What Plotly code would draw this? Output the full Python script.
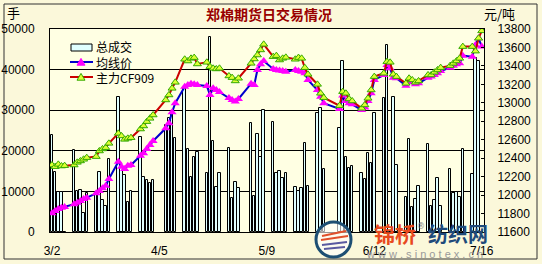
import plotly.graph_objects as go

# ---------------- data ----------------
march_days = [2, 3, 4, 5, 6, 9, 10, 11, 12, 13, 16, 17, 18, 19, 20, 23, 24, 25, 26, 27, 30, 31]
april_days = [1, 2, 3, 7, 8, 9, 10, 13, 14, 15, 16, 17, 20, 21, 22, 23, 24, 27, 28, 29, 30]
may_days = [4, 5, 6, 7, 8, 11, 12, 13, 14, 15, 18, 19, 20, 21, 22, 25, 26, 27]
june_days = [1, 2, 3, 4, 5, 8, 9, 10, 11, 12, 15, 16, 17, 18, 19, 22, 23, 24, 25, 26, 29, 30]
july_days = [1, 2, 3, 6, 7, 8, 9, 10, 13, 14, 15, 16]

dates = ([f"2009-03-{d:02d}" for d in march_days] + [f"2009-04-{d:02d}" for d in april_days] +
         [f"2009-05-{d:02d}" for d in may_days] + [f"2009-06-{d:02d}" for d in june_days] +
         [f"2009-07-{d:02d}" for d in july_days])

volume = [
    # March
    23900, 14800, 9900, 9900, 0, 20100, 10000, 10300, 4700, 9600, 9500, 14900, 8000, 6500, 17900,
    33300, 16000, 14000, 7500, 10000, 23500, 13600,
    # April
    12800, 12000, 12800, 26300, 28000, 29500, 23100, 35400, 20400, 13500, 18500, 19800, 14500,
    48000, 22400, 11200, 14600, 20800, 8400, 12400, 10800,
    # May
    26800, 8900, 24100, 18500, 30000, 27000, 14500, 15000, 13300, 14500, 11200, 10100, 10750,
    21800, 11400, 29200, 30600, 15500,
    # June
    25500, 42100, 18400, 15800, 16300, 14450, 13000, 19400, 16900, 29200, 32900, 46000, 0,
    33300, 16500, 8700, 22800, 6200, 8100, 11400, 21600, 6400,
    # July
    8000, 13300, 6400, 15400, 9500, 9850, 8600, 20400, 14200, 42800, 42000, 0,
]

avg_price = [
    11802, 11828, 11849, 11864, 11871, 11900, 11918, 11936, 11958, 11972, 12019, 12044, 12073,
    12102, 12174, 12362, 12308, 12283, 12319, 12326, 12427, 12453,
    12500, 12543, 12586, 12724, 12778, 12897, 12995, 13175, 13193, 13208, 13201, 13193, 13183,
    13085, 13157, 13139, 13117, 13052, 13031, 13013, 13042,
    13208, 13193, 13356, 13417, 13453, 13367, 13356, 13349, 13345, 13338, 13356, 13345, 13338,
    13320, 13248, 13139, 13067, 12995,
    12933, 13078, 13020, 12995, 12984, 12922, 12948, 13020, 13103, 13248, 13302, 13410, 13374,
    13273, 13266, 13186, 13230, 13222, 13201, 13211, 13273, 13284,
    13302, 13320, 13345, 13381, 13403, 13417, 13428, 13511, 13500, 13627, 13699, 13609,
]

main_price = [
    12326, 12308, 12333, 12315, 12319, 12326, 12355, 12370, 12388, 12406, 12417, 12478, 12500,
    12514, 12561, 12669, 12641, 12604, 12615, 12622, 12716, 12749,
    12796, 12832, 12868, 13031, 13085, 13157, 13222, 13472, 13453, 13482, 13490, 13421, 13439,
    13392, 13374, 13367, 13374, 13291, 13273, 13237, 13266,
    13428, 13475, 13518, 13573, 13634, 13500, 13511, 13464, 13482, 13493, 13472, 13490, 13482,
    13381, 13309, 13200, 13103, 13056,
    12969, 13121, 13103, 13042, 13020, 12940, 12977, 13049, 13139, 13284, 13320, 13446, 13439,
    13309, 13284, 13211, 13266, 13248, 13222, 13237, 13302, 13302,
    13331, 13356, 13381, 13403, 13428, 13453, 13482, 13609, 13609, 13560, 13700, 13780,
]

series_names = ["总成交", "均线价", "主力CF909"]
tick_dates = ["2009-03-02", "2009-04-05", "2009-05-09", "2009-06-12", "2009-07-16"]
tick_labels = ["3/2", "4/5", "5/9", "6/12", "7/16"]
left_ticks = [0, 10000, 20000, 30000, 40000, 50000]
right_ticks = list(range(11600, 13801, 200))

# ---------------- styles ----------------
PLOT_BG = "#FFFFE3"
PAPER_BG = "#FBF8DA"
TICK_FONT = dict(family="Liberation Sans, Arial, sans-serif", size=12, color="#000000")
CJK = "Noto Sans CJK SC"
BAR_FILL = "#E0FFFF"
BLUE, MAGENTA = "#0000CC", "#FF00FF"
RED, YG, GREEN = "#CC0000", "#DDFF33", "#33AA00"

fig = go.Figure()
fig.add_trace(go.Bar(
    x=dates, y=volume, name=series_names[0],
    width=0.78 * 86400000,
    marker=dict(color=BAR_FILL, line=dict(color="#000000", width=1)),
))
fig.add_trace(go.Scatter(
    x=dates, y=avg_price, name=series_names[1], yaxis="y2", mode="lines+markers",
    line=dict(color=BLUE, width=2),
    marker=dict(symbol="triangle-up", size=8, color=MAGENTA, line=dict(width=0)),
))
fig.add_trace(go.Scatter(
    x=dates, y=main_price, name=series_names[2], yaxis="y2", mode="lines+markers",
    line=dict(color=RED, width=2),
    marker=dict(symbol="triangle-up", size=7, color=YG, line=dict(color=GREEN, width=1)),
))

W, H = 542, 264
L, R, T, B = 50, 58, 29, 32
pw, ph = W - L - R, H - T - B


def px(x):
    return (x - L) / pw


def py(y):
    return (H - B - y) / ph


fig.update_layout(
    width=W, height=H,
    margin=dict(l=L, r=R, t=T, b=B, pad=0, autoexpand=False),
    paper_bgcolor=PAPER_BG, plot_bgcolor=PLOT_BG,
    bargap=0,
    showlegend=False,
    xaxis=dict(
        type="date", automargin=False,
        range=["2009-03-01 09:00", "2009-07-16 17:00"],
        tickvals=tick_dates, ticktext=tick_labels,
        showgrid=False, zeroline=False,
        showline=True, linecolor="#000000", linewidth=1, mirror=True,
        ticks="", tickfont=TICK_FONT, ticklabelstandoff=8,
    ),
    yaxis=dict(
        range=[0, 50000], tickvals=left_ticks, tickformat="d", automargin=False,
        showgrid=True, gridcolor="#000000", gridwidth=1,
        zeroline=False, showline=True, linecolor="#000000", linewidth=1,
        ticks="", tickfont=TICK_FONT, ticklabelstandoff=12,
    ),
    yaxis2=dict(
        range=[11600, 13800], tickvals=right_ticks, tickformat="d", automargin=False,
        overlaying="y", side="right",
        showgrid=False, zeroline=False, showline=True, linecolor="#000000", linewidth=1,
        ticks="inside", ticklen=3, tickcolor="#000000",
        tickfont=TICK_FONT, ticklabelstandoff=10,
    ),
)

# outer frame
fig.add_shape(type="rect", xref="paper", yref="paper",
              x0=px(4), x1=px(537), y0=py(259), y1=py(4),
              line=dict(color="#333333", width=1), fillcolor="rgba(0,0,0,0)", layer="below")

# ---------------- legend (drawn manually, compact like the original) ----------------
fig.add_shape(type="rect", xref="paper", yref="paper", x0=px(69), x1=px(158), y0=py(81), y1=py(38),
              line=dict(width=0), fillcolor=PLOT_BG, layer="between")
fig.add_shape(type="rect", xref="paper", yref="paper", x0=px(71), x1=px(92), y0=py(51), y1=py(44),
              line=dict(color="#000000", width=1), fillcolor=BAR_FILL, layer="above")


def tri(cx, cy, s):
    return (f"M {px(cx - s)},{py(cy + s * 0.8)} L {px(cx + s)},{py(cy + s * 0.8)} "
            f"L {px(cx)},{py(cy - s * 0.9)} Z")


for cy, lc, fc, oc in [(62, BLUE, MAGENTA, MAGENTA), (77, RED, YG, GREEN)]:
    fig.add_shape(type="line", xref="paper", yref="paper", x0=px(70), x1=px(93), y0=py(cy), y1=py(cy),
                  line=dict(color=lc, width=2), layer="above")
    fig.add_shape(type="path", xref="paper", yref="paper", path=tri(81, cy, 4),
                  line=dict(color=oc, width=1), fillcolor=fc, layer="above")

fig.add_annotation(text="<br>".join(series_names), xref="paper", yref="paper", x=px(95), y=py(62),
                   showarrow=False, xanchor="left", yanchor="middle", align="left", borderpad=0,
                   font=dict(family=CJK, size=12, color="#000000"))

# ---------------- titles ----------------
fig.add_annotation(text="<b>郑棉期货日交易情况</b>", xref="paper", yref="paper",
                   x=px(269), y=py(14), showarrow=False, xanchor="center", yanchor="middle",
                   font=dict(family=CJK, size=14, color="#990000"))
fig.add_annotation(text="手", xref="paper", yref="paper", x=px(5), y=py(12),
                   showarrow=False, xanchor="left", yanchor="middle",
                   font=dict(family=CJK, size=13, color="#000000"))
fig.add_annotation(text="元/吨", xref="paper", yref="paper", x=px(482), y=py(13),
                   showarrow=False, xanchor="left", yanchor="middle",
                   font=dict(family=CJK, size=13, color="#000000"))

# ---------------- watermark ----------------
fig.add_shape(type="circle", xref="paper", yref="paper",
              x0=px(316), x1=px(351), y0=py(257), y1=py(222),
              line=dict(color="#1D4F73", width=3), fillcolor="rgba(255,255,255,0.6)")
for (x0, y0, x1, y1, c) in [(322, 236, 346, 231, "#E0502A"), (321, 240, 348, 236, "#E0502A"),
                            (322, 245, 347, 242, "#5A5AA0"), (324, 249, 345, 247, "#5A5AA0")]:
    fig.add_shape(type="line", xref="paper", yref="paper", x0=px(x0), y0=py(y0), x1=px(x1), y1=py(y1),
                  line=dict(color=c, width=2))
fig.add_annotation(text="<b>锦桥</b>", xref="paper", yref="paper", x=px(395), y=py(233),
                   showarrow=False, xanchor="center", yanchor="middle",
                   font=dict(family=CJK, size=21, color="#E8491D"))
fig.add_annotation(text="®", xref="paper", yref="paper", x=px(421), y=py(226),
                   showarrow=False, xanchor="center", yanchor="middle",
                   font=dict(family="DejaVu Sans", size=8, color="#888888"))
fig.add_annotation(text="<b>纺织网</b>", xref="paper", yref="paper", x=px(458), y=py(233),
                   showarrow=False, xanchor="center", yanchor="middle",
                   font=dict(family=CJK, size=20, color="#1E4A7A"))
fig.add_annotation(text="w w w . s i n o t e x . c n", xref="paper", yref="paper", x=px(424), y=py(254),
                   showarrow=False, xanchor="center", yanchor="middle",
                   font=dict(family="Liberation Sans", size=11, color="#9A9A9A"))

fig.write_html("out.html")
